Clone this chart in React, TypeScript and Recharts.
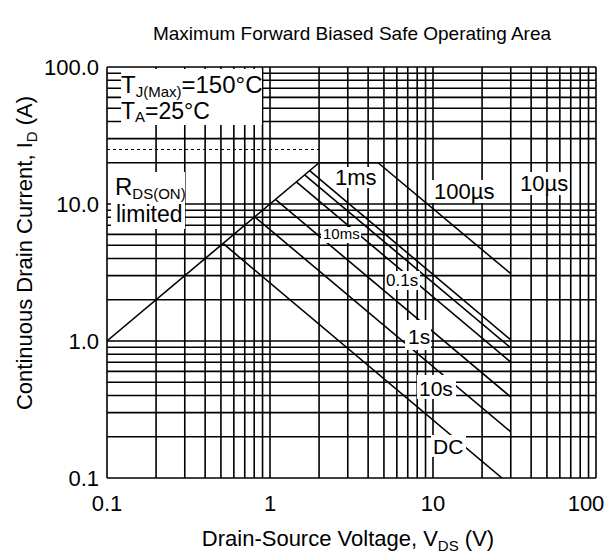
import React from 'react';
import { LineChart, Line, XAxis, YAxis, CartesianGrid } from 'recharts';

const font = '"Liberation Sans", Arial, Helvetica, sans-serif';

// log grid: 1..9 in every decade, labels only on the decades
const xTicks = [0.1, 0.2, 0.3, 0.4, 0.5, 0.6, 0.7, 0.8, 0.9, 1, 2, 3, 4, 5, 6, 7, 8, 9, 10, 20, 30, 40, 50, 60, 70, 80, 90, 100];
const yTicks = [0.1, 0.2, 0.3, 0.4, 0.5, 0.6, 0.7, 0.8, 0.9, 1, 2, 3, 4, 5, 6, 7, 8, 9, 10, 20, 30, 40, 50, 60, 70, 80, 90, 100];
const xMajor = [0.1, 1, 10, 100];
const xMajorText = ['0.1', '1', '10', '100'];
const yMajor = [0.1, 1, 10, 100];
const yMajorText = ['0.1', '1.0', '10.0', '100.0'];

// SOA boundaries: V_DS (V) and I_D (A)
const rdsV = [0.1, 2];
const rdsI = [1, 20];
const pulseV = [0.1, 2];
const pulseI = [25, 25];
const topV = [2, 4.6];
const topI = [20, 20];
const us100V = [4.6, 30];
const us100I = [20, 3.1];
const ms1V = [1.75, 30];
const ms1I = [17.5, 1.02];
const ms10V = [1.63, 30];
const ms10I = [16.3, 0.89];
const s01V = [1.45, 30];
const s01I = [14.5, 0.7];
const s1V = [1.08, 30];
const s1I = [10.8, 0.39];
const s10V = [0.806, 30];
const s10I = [8.06, 0.217];
const dcV = [0.515, 26.5];
const dcI = [5.15, 0.1];

const pts = (v: number[], i: number[]) => v.map((x, k) => ({ v: x, i: i[k] }));

const curves = [
  { name: 'Rds', data: pts(rdsV, rdsI) },
  { name: 'top', data: pts(topV, topI) },
  { name: '100us', data: pts(us100V, us100I) },
  { name: '1ms', data: pts(ms1V, ms1I) },
  { name: '10ms', data: pts(ms10V, ms10I) },
  { name: '0.1s', data: pts(s01V, s01I) },
  { name: '1s', data: pts(s1V, s1I) },
  { name: '10s', data: pts(s10V, s10I) },
  { name: 'DC', data: pts(dcV, dcI) },
];

const fmtY = (v: number) => {
  const k = yMajor.indexOf(v);
  return k >= 0 ? yMajorText[k] : '';
};

// x tick: only decades get text, the last one is pulled in so it stays on the page
const XTick = (props: any) => {
  const { x, y, payload } = props;
  const k = xMajor.indexOf(payload.value);
  if (k < 0) return <g />;
  const last = k === xMajor.length - 1;
  return (
    <text x={last ? x - 10 : x} y={y} dy="0.71em" textAnchor="middle" fontSize={22} fontFamily={font} fill="#000">
      {xMajorText[k]}
    </text>
  );
};

// white label boxes sitting on top of the grid
const Tag = ({ x, y, w, h, tx, ty, size, children }: any) => (
  <g>
    <rect x={x} y={y} width={w} height={h} fill="#fff" />
    <text x={tx} y={ty} fontSize={size} fontFamily={font} fill="#000">{children}</text>
  </g>
);

export default function App() {
  return (
    <div style={{ position: 'absolute', left: 0, top: 0, width: 611, height: 560, background: '#fff' }}>
      <LineChart width={611} height={560} margin={{ top: 67, right: 15, bottom: 52, left: 47 }}>
        <CartesianGrid stroke="#000" strokeWidth={1.6} />
        <XAxis
          dataKey="v"
          type="number"
          scale="log"
          domain={[0.1, 100]}
          allowDataOverflow
          ticks={xTicks}
          interval={0}
          axisLine={false}
          tickLine={false}
          tickSize={10}
          tickMargin={7}
          height={30}
          tick={<XTick />}
        />
        <YAxis
          dataKey="i"
          type="number"
          scale="log"
          domain={[0.1, 100]}
          allowDataOverflow
          ticks={yTicks}
          interval={0}
          tickFormatter={fmtY}
          axisLine={false}
          tickLine={false}
          tickSize={6}
          tickMargin={2}
          width={60}
          tick={{ fontSize: 22, fill: '#000', fontFamily: font }}
        />
        <Line
          data={pts(pulseV, pulseI)}
          dataKey="i"
          type="linear"
          stroke="#000"
          strokeWidth={1.2}
          strokeDasharray="3 3"
          dot={false}
          isAnimationActive={false}
        />
        {curves.map((c) => (
          <Line
            key={c.name}
            data={c.data}
            dataKey="i"
            name={c.name}
            type="linear"
            stroke="#000"
            strokeWidth={1.6}
            dot={false}
            isAnimationActive={false}
          />
        ))}
      </LineChart>
      <svg width={611} height={560} style={{ position: 'absolute', left: 0, top: 0, pointerEvents: 'none' }}>
        <text x={352} y={40} fontSize={19} fontFamily={font} textAnchor="middle" fill="#000">
          Maximum Forward Biased Safe Operating Area
        </text>
        <text x={348} y={546} fontSize={22} fontFamily={font} textAnchor="middle" fill="#000">
          Drain-Source Voltage, V<tspan fontSize={15} dy={5}>DS</tspan><tspan dy={-5}> (V)</tspan>
        </text>
        <text transform="translate(32,253) rotate(-90)" fontSize={22} fontFamily={font} textAnchor="middle" fill="#000">
          Continuous Drain Current, I<tspan fontSize={15} dy={5}>D</tspan><tspan dy={-5}> (A)</tspan>
        </text>

        <rect x={121} y={69} width={141} height={56} fill="#fff" />
        <text x={121} y={93} fontSize={24} fontFamily={font} fill="#000">
          T<tspan fontSize={15} dy={4}>J(Max)</tspan><tspan dy={-4}>=150°C</tspan>
        </text>
        <text x={121} y={119} fontSize={23} fontFamily={font} fill="#000">
          T<tspan fontSize={15} dy={3}>A</tspan><tspan dy={-3}>=25°C</tspan>
        </text>

        <rect x={111} y={172} width={74} height={57} fill="#fff" />
        <text x={115} y={195} fontSize={24} fontFamily={font} fill="#000">
          R<tspan fontSize={15} dy={4}>DS(ON)</tspan>
        </text>
        <text x={116} y={222} fontSize={23} fontFamily={font} fill="#000">limited</text>

        <Tag x={333} y={167} w={44} h={21} tx={335} ty={185} size={22}>1ms</Tag>
        <Tag x={432} y={180} w={65} h={23} tx={434} ty={199} size={22}>100µs</Tag>
        <Tag x={518} y={172} w={51} h={23} tx={520} ty={191} size={22}>10µs</Tag>
        <Tag x={321} y={227} w={40} h={16} tx={323} ty={239} size={15}>10ms</Tag>
        <Tag x={385} y={271} w={35} h={19} tx={386} ty={286} size={17}>0.1s</Tag>
        <Tag x={405} y={320} w={26} h={30} tx={408} ty={344} size={21}>1s</Tag>
        <Tag x={417} y={375} w={39} h={24} tx={419} ty={396} size={21}>10s</Tag>
        <Tag x={431} y={435} w={35} h={22} tx={433} ty={454} size={21}>DC</Tag>
      </svg>
    </div>
  );
}
